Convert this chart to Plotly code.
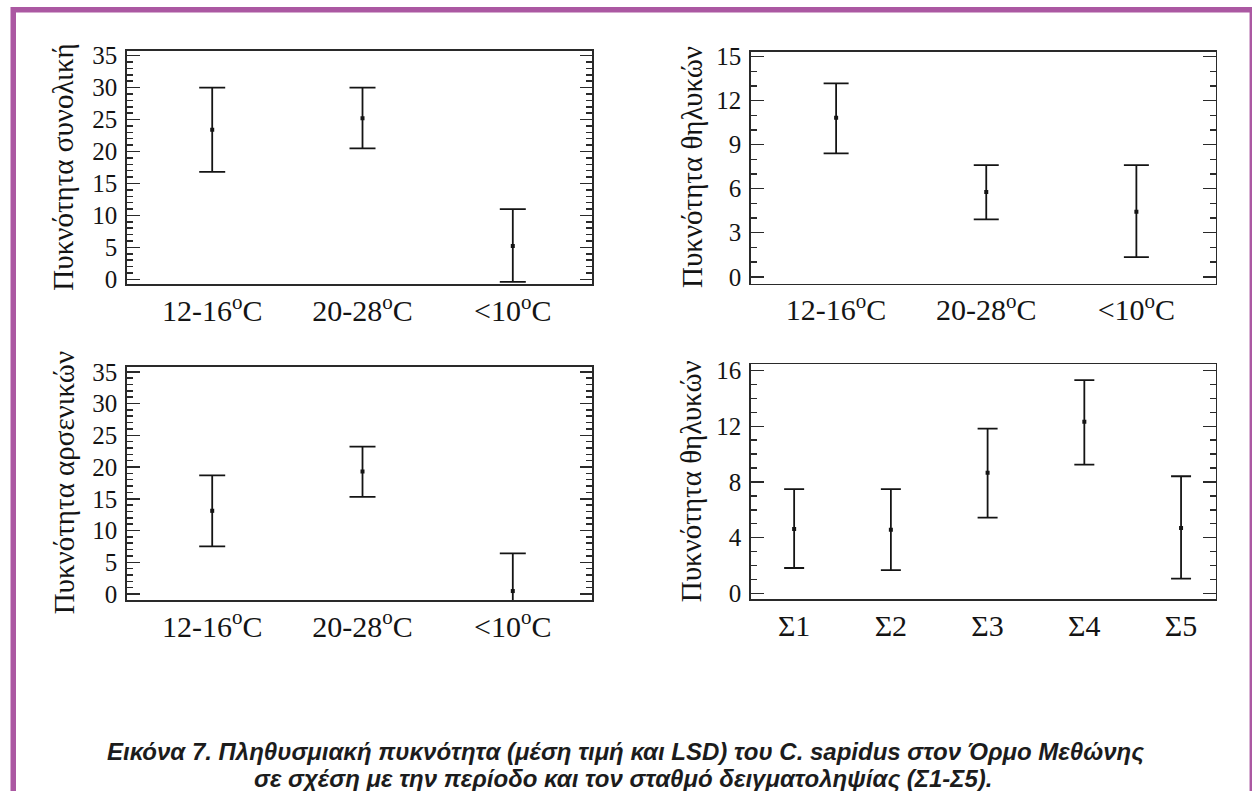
import plotly.graph_objects as go

W, H = 1252, 791

# ---------------- data ----------------
temp_labels = ["12-16<sup>o</sup>C", "20-28<sup>o</sup>C", "&lt;10<sup>o</sup>C"]
station_labels = ["Σ1", "Σ2", "Σ3", "Σ4", "Σ5"]

total_mean = [23.4, 25.2, 5.2]
total_upper = [30.0, 30.0, 11.0]
total_lower = [16.8, 20.5, -0.4]

female_mean = [10.84, 5.77, 4.43]
female_upper = [13.18, 7.61, 7.61]
female_lower = [8.41, 3.91, 1.34]

male_mean = [13.1, 19.3, 0.47]
male_upper = [18.7, 23.2, 6.4]
male_lower = [7.5, 15.3, -5.5]

station_mean = [4.62, 4.57, 8.66, 12.33, 4.69]
station_upper = [7.49, 7.49, 11.83, 15.32, 8.41]
station_lower = [1.82, 1.67, 5.43, 9.24, 1.05]

y_titles = ["Πυκνότητα συνολική", "Πυκνότητα θηλυκών",
            "Πυκνότητα αρσενικών", "Πυκνότητα θηλυκών"]

caption_1 = "Εικόνα 7. Πληθυσμιακή πυκνότητα (μέση τιμή και LSD) του C. sapidus στον Όρμο Μεθώνης"
caption_2 = "σε σχέση με την περίοδο και τον σταθμό δειγματοληψίας (Σ1-Σ5)."

# ---------------- layout / styling ----------------
INK = "#141414"
FRAME = "#2a2a2a"
PURPLE = "#AB58A2"
SERIF = "Liberation Serif, Times New Roman, serif"

panels = [
    dict(cats=temp_labels, mean=total_mean, up=total_upper, lo=total_lower,
         title=y_titles[0], yr=[-0.78, 35.73], dtick=5, xr=[-0.567, 2.527],
         box=(127, 592, 51, 284.3), capw=13, tx=63),
    dict(cats=temp_labels, mean=female_mean, up=female_upper, lo=female_lower,
         title=y_titles[1], yr=[-0.46, 15.35], dtick=3, xr=[-0.567, 2.527],
         box=(751, 1215.5, 51.5, 283.5), capw=12.5, tx=691.5),
    dict(cats=temp_labels, mean=male_mean, up=male_upper, lo=male_lower,
         title=y_titles[2], yr=[-0.94, 35.8], dtick=5, xr=[-0.567, 2.527],
         box=(127, 592, 366.7, 600), capw=13, tx=64),
    dict(cats=station_labels, mean=station_mean, up=station_upper, lo=station_lower,
         title=y_titles[3], yr=[-0.43, 16.45], dtick=4, xr=[-0.446, 4.356],
         box=(751, 1215.5, 364.3, 599.3), capw=10, tx=690.5),
]

fig = go.Figure()
layout = dict(
    width=W, height=H,
    margin=dict(l=0, r=0, t=0, b=0, pad=0),
    paper_bgcolor="white", plot_bgcolor="white",
    showlegend=False,
    annotations=[], shapes=[],
)

for i, p in enumerate(panels, start=1):
    sfx = "" if i == 1 else str(i)
    xa, ya = "x" + sfx, "y" + sfx
    xs = list(range(len(p["cats"])))
    fig.add_trace(go.Scatter(
        x=xs, y=p["mean"], mode="markers",
        marker=dict(symbol="square", size=4, color=INK),
        error_y=dict(type="data", symmetric=False,
                     array=[u - m for u, m in zip(p["up"], p["mean"])],
                     arrayminus=[m - l for m, l in zip(p["mean"], p["lo"])],
                     width=p["capw"], thickness=1.8, color=INK),
        xaxis=xa, yaxis=ya, hoverinfo="skip"))
    x0, x1, y0, y1 = p["box"]
    layout["xaxis" + sfx] = dict(
        domain=[x0 / W, x1 / W], range=p["xr"], anchor=ya,
        tickmode="array", tickvals=xs, ticktext=p["cats"], ticks="",
        showline=True, linecolor=FRAME, linewidth=1.8, mirror=True,
        showgrid=False, zeroline=False, automargin=False,
        tickfont=dict(family=SERIF, size=30, color=INK),
        ticklabelstandoff=-1)
    layout["yaxis" + sfx] = dict(
        domain=[1 - y1 / H, 1 - y0 / H], range=p["yr"], anchor=xa,
        tickmode="linear", tick0=0, dtick=p["dtick"],
        ticks="inside", ticklen=12.5, tickwidth=1.5, tickcolor=FRAME,
        minor=dict(tick0=0, dtick=1, ticks="inside", ticklen=6,
                   tickwidth=1.5, tickcolor=FRAME, showgrid=False),
        showline=True, linecolor=FRAME, linewidth=1.8, mirror="allticks",
        showgrid=False, zeroline=False, automargin=False,
        tickfont=dict(family=SERIF, size=25, color=INK),
        ticklabelstandoff=3)
    layout["annotations"].append(dict(
        text=p["title"], textangle=-90, xref="paper", yref="paper",
        x=p["tx"] / W, y=1 - (y0 + y1) / 2 / H, xanchor="center", yanchor="middle",
        showarrow=False, font=dict(family=SERIF, size=29, color=INK)))

CAP_FONT = dict(family="Liberation Sans Narrow, Liberation Sans, Arial Narrow, sans-serif",
                size=24, color="#1c1c1c")
layout["annotations"].append(dict(
    text="<b><i>" + caption_1 + "</i></b>", xref="paper", yref="paper",
    x=625 / W, y=1 - 751 / H, xanchor="center", yanchor="middle",
    showarrow=False, font=CAP_FONT))
layout["annotations"].append(dict(
    text="<b><i>" + caption_2 + "</i></b>", xref="paper", yref="paper",
    x=623 / W, y=1 - 778 / H, xanchor="center", yanchor="middle",
    showarrow=False, font=CAP_FONT))

layout["shapes"].append(dict(
    type="rect", xref="paper", yref="paper",
    x0=13.25 / W, x1=1252.3 / W, y0=1 - 810 / H, y1=1 - 9.75 / H,
    line=dict(color=PURPLE, width=5.5), fillcolor="rgba(0,0,0,0)", layer="above"))

fig.update_layout(**layout)
fig.write_html(
    "out.html",
    config={"displayModeBar": False, "staticPlot": True},
    post_script="document.body.style.margin='0';document.body.style.overflow='hidden';",
)
